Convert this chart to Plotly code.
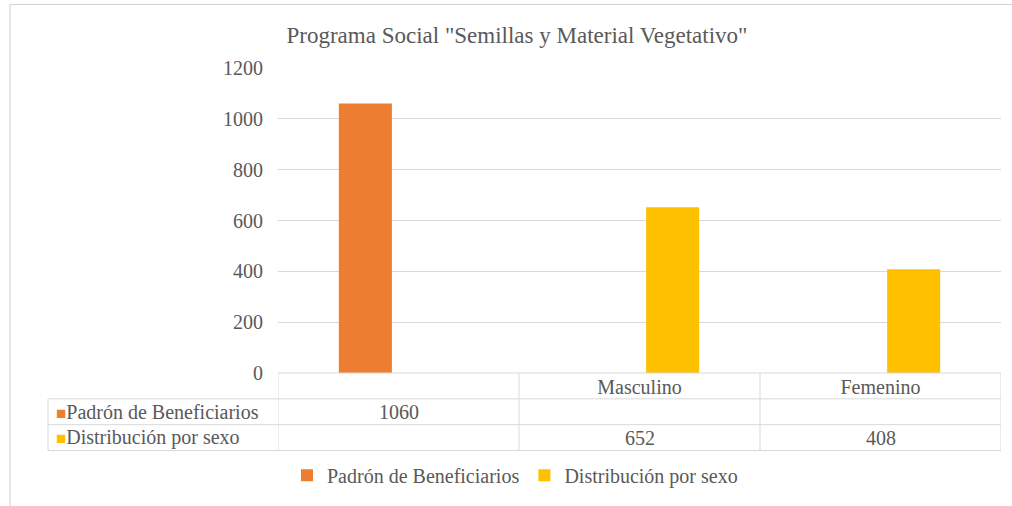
import plotly.graph_objects as go

# ---- data ----
categories = ["", "Masculino", "Femenino"]
series_names = ["Padrón de Beneficiarios", "Distribución por sexo"]
padron_values = [1060, None, None]
distribucion_values = [None, 652, 408]
series_colors = ["#ED7D31", "#FFC000"]
y_ticks = [0, 200, 400, 600, 800, 1000, 1200]
title_text = 'Programa Social "Semillas y Material Vegetativo"'

FONT = "Liberation Serif"
GRAY = "#595959"
LINE = "#D9D9D9"
FS = 20

W, H = 1012, 506
L, R, T, B = 278, 11, 68, 131
pw, ph = W - L - R, H - T - B

def px_to_py(py):
    return (H - B - py) / ph

def px_to_px(px):
    return (px - L) / pw

xs = list(range(len(categories)))
fig = go.Figure()
all_values = [padron_values, distribucion_values]
for name, vals, col in zip(series_names, all_values, series_colors):
    fig.add_trace(go.Bar(x=xs, y=vals, name=name, marker=dict(color=col, line=dict(width=0))))

shapes = []
# chart border
shapes.append(dict(type="rect", xref="paper", yref="paper",
                   x0=px_to_px(10), x1=px_to_px(1030), y0=px_to_py(530), y1=px_to_py(4),
                   line=dict(color="#D0D0D0", width=1), fillcolor="rgba(0,0,0,0)", layer="below"))
# data table horizontal lines
row_lines = [375, 401, 427, 453]
for i, py in enumerate(row_lines):
    if i == 0:
        shapes.append(dict(type="line", xref="x", yref="paper", x0=-0.5, x1=len(categories) - 0.5,
                           y0=px_to_py(py), y1=px_to_py(py), line=dict(color=LINE, width=1)))
    else:
        shapes.append(dict(type="line", xref="paper", yref="paper", x0=px_to_px(48), x1=1.0,
                           y0=px_to_py(py), y1=px_to_py(py), line=dict(color=LINE, width=1)))
# vertical lines
for k in range(len(categories) + 1):
    shapes.append(dict(type="line", xref="x", yref="paper", x0=k - 0.5, x1=k - 0.5,
                       y0=px_to_py(375), y1=px_to_py(453), line=dict(color=LINE, width=1)))
shapes.append(dict(type="line", xref="paper", yref="paper", x0=px_to_px(48), x1=px_to_px(48),
                   y0=px_to_py(401), y1=px_to_py(453), line=dict(color=LINE, width=1)))

annotations = []
row_centers = [414, 440]
for name, vals, col, pyc in zip(series_names, all_values, series_colors, row_centers):
    annotations.append(dict(xref="paper", yref="paper", x=px_to_px(54), y=px_to_py(pyc),
                            xanchor="left", yanchor="middle", showarrow=False,
                            text=f"<span style='color:{col};font-size:17px'>■</span>{name}",
                            font=dict(family=FONT, size=FS, color=GRAY)))
    for i, v in enumerate(vals):
        if v is not None:
            annotations.append(dict(xref="x", yref="paper", x=xs[i], y=px_to_py(pyc),
                                    xanchor="center", yanchor="middle", showarrow=False,
                                    text=str(v), font=dict(family=FONT, size=FS, color=GRAY)))

fig.update_layout(
    width=W, height=H,
    margin=dict(l=L, r=R, t=T, b=B),
    paper_bgcolor="white", plot_bgcolor="white",
    title=dict(text=title_text, x=px_to_px(517), xref="paper", xanchor="center",
               y=1 - 35 / H, yanchor="middle",
               font=dict(family=FONT, size=23, color=GRAY)),
    barmode="group", bargap=0.45, bargroupgap=0.2,
    xaxis=dict(tickmode="array", tickvals=xs, ticktext=categories, range=[-0.5, len(categories) - 0.5],
               showgrid=False, zeroline=False, showline=False, ticks="",
               tickfont=dict(family=FONT, size=FS, color=GRAY)),
    yaxis=dict(range=[0, 1200], tickmode="array", tickvals=y_ticks, showgrid=True, gridcolor=LINE,
               gridwidth=1, zeroline=False, showline=False, ticks="", ticklabelstandoff=14,
               tickfont=dict(family=FONT, size=FS, color=GRAY)),
    legend=dict(orientation="h", x=px_to_px(515), xanchor="center", y=px_to_py(478), yanchor="middle",
                xref="paper", yref="paper",
                font=dict(family=FONT, size=FS, color=GRAY), itemwidth=30, tracegroupgap=0),
    shapes=shapes, annotations=annotations,
)

fig.write_html("out.html", config={"displayModeBar": False},
               post_script="document.body.style.margin='0';document.body.style.padding='0';")
